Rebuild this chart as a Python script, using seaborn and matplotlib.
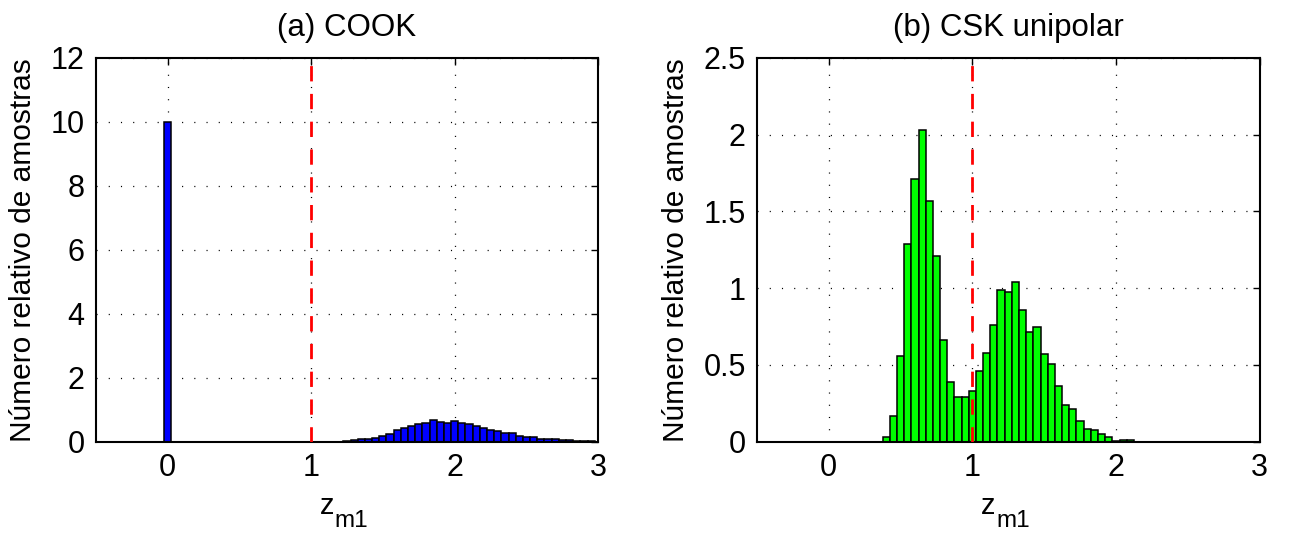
import numpy as np
import pandas as pd
import matplotlib.pyplot as plt
import seaborn as sns

# bin width of both histograms
bin_w = 0.05

# (a) COOK - relative number of samples per bin
cook_centers = [0.0] + list(np.round(np.arange(1.25, 2.96, bin_w), 2))
cook_heights = [10.0,
                0.02, 0.05, 0.08, 0.08, 0.11, 0.18, 0.25, 0.37, 0.43, 0.48,
                0.54, 0.59, 0.67, 0.62, 0.58, 0.66,
                0.59, 0.54, 0.48, 0.42, 0.37, 0.34, 0.27, 0.27, 0.19, 0.15,
                0.14, 0.09, 0.08, 0.07, 0.04, 0.05, 0.03, 0.03, 0.02]

# (b) CSK unipolar
csk_centers = list(np.round(np.arange(0.40, 2.11, bin_w), 2))
csk_heights = [0.03, 0.17, 0.56, 1.29, 1.71, 2.03, 1.57, 1.21, 0.66, 0.39,
               0.29, 0.29, 0.33, 0.46, 0.58, 0.76, 0.985, 0.976, 1.04, 0.857,
               0.714, 0.744, 0.569, 0.508, 0.362, 0.237, 0.215, 0.135, 0.081,
               0.074, 0.052, 0.029, 0.005, 0.011, 0.011]

titles = ['(a) COOK', '(b) CSK unipolar']
colors = ['#0000ff', '#00ff00']
ylims = [12, 2.5]
yticks = [np.arange(0, 12.1, 2), np.arange(0, 2.51, 0.5)]
ytick_labels = [['0', '2', '4', '6', '8', '10', '12'],
                ['0', '0.5', '1', '1.5', '2', '2.5']]
threshold = 1

sns.set_theme(style='white')
plt.rcParams['font.family'] = ['Liberation Sans', 'DejaVu Sans']
plt.rcParams['lines.scale_dashes'] = False
plt.rcParams['text.color'] = 'black'
plt.rcParams['axes.labelcolor'] = 'black'

fig = plt.figure(figsize=(12.9, 5.34), dpi=100)
axes = [fig.add_axes([0.0742, 0.1728, 0.3896, 0.7191]),
        fig.add_axes([0.5868, 0.1728, 0.3896, 0.7191])]

data = [pd.DataFrame({'z': cook_centers, 'w': cook_heights}),
        pd.DataFrame({'z': csk_centers, 'w': csk_heights})]

for i, ax in enumerate(axes):
    sns.histplot(data=data[i], x='z', weights='w', binwidth=bin_w,
                 binrange=(-0.025, 2.975), color=colors[i], alpha=1,
                 edgecolor='black', linewidth=1.1, ax=ax, zorder=2)
    ax.axvline(threshold, color='red', lw=2, linestyle=(0, (11, 9)), zorder=3)
    ax.set_xlim(-0.5, 3)
    ax.set_ylim(0, ylims[i])
    ax.set_xticks([0, 1, 2, 3])
    ax.set_xticklabels(['0', '1', '2', '3'])
    ax.set_yticks(yticks[i])
    ax.set_yticklabels(ytick_labels[i])
    ax.grid(True, color='black', linestyle=(0, (0.8, 8)), linewidth=0.9)
    ax.set_axisbelow(True)
    ax.tick_params(direction='in', length=5, width=1, top=True, right=True,
                   labelsize=22, pad=8, colors='black')
    for s in ax.spines.values():
        s.set_visible(True)
        s.set_color('black')
        s.set_linewidth(1.5)
    ax.set_title(titles[i], fontsize=22.5, pad=16)
    ax.set_ylabel('Número relativo de amostras', fontsize=21.5, labelpad=10)

    # z with a low MATLAB-style subscript m1
    ax.set_xlabel('z', fontsize=21)
    ax.xaxis.set_label_coords(0.46, -0.13)
    ax.annotate('m1', xy=(1, 0), xycoords=ax.xaxis.label, xytext=(0.5, -5),
                textcoords='offset points', ha='left', va='baseline',
                fontsize=17.5)

fig.savefig('out.png', dpi=100, facecolor='white')
